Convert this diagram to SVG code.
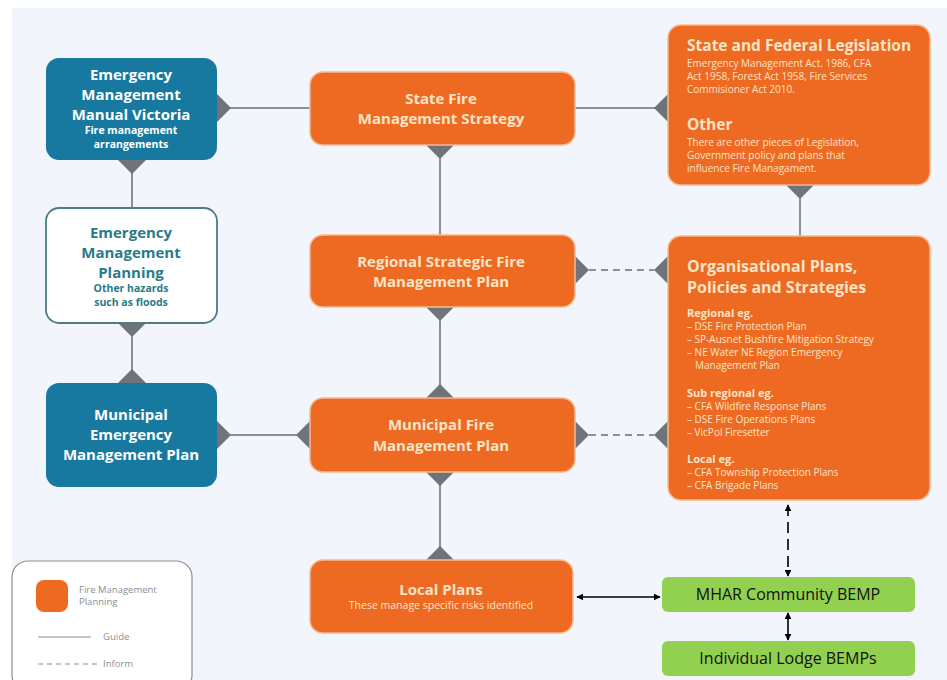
<svg xmlns="http://www.w3.org/2000/svg" width="947" height="680" viewBox="0 0 947 680">
<defs>
<style>
.bg{fill:#f2f5fb}
.org{fill:#ee6a23;stroke:#f7b98e;stroke-width:1.5}
.blue{fill:#17799f}
.wbox{fill:#ffffff;stroke:#4a7d86;stroke-width:1.8}
.green{fill:#92d050}
.dia{fill:#6e7479}
.ln{stroke:#8b9095;stroke-width:2;fill:none}
.dash{stroke:#8b9095;stroke-width:2;fill:none;stroke-dasharray:7 5}
.arr{stroke:#000;stroke-width:1.6;fill:none}
.t{font-family:"Open Sans","Noto Sans",sans-serif;font-weight:bold;text-anchor:middle}
.tb{fill:#ffffff}
.to{fill:#fde4c6}
.tt{fill:#2a7a8a}
.h{font-family:"Open Sans","Noto Sans",sans-serif;font-weight:bold;fill:#fde4c6}
.s{font-family:"Open Sans","Noto Sans",sans-serif;fill:#fde4c6;font-size:10px}
.g{font-family:"Open Sans","Noto Sans",sans-serif;font-size:16px;fill:#111;text-anchor:middle}
.lg{font-family:"Open Sans","Noto Sans",sans-serif;font-size:9.5px;fill:#8a8f94}
</style>
<marker id="ah" viewBox="0 0 10 10" refX="9" refY="5" markerWidth="7" markerHeight="7" orient="auto-start-reverse" markerUnits="userSpaceOnUse">
<path d="M0,0 L10,5 L0,10 z" fill="#000"/>
</marker>
</defs>
<rect class="bg" x="12" y="8" width="935" height="672"/>

<g id="connectors">
<line class="ln" x1="217" y1="108" x2="310" y2="108"/>
<line class="ln" x1="575" y1="108" x2="668" y2="108"/>
<line class="ln" x1="440" y1="145" x2="440" y2="235"/>
<line class="ln" x1="440" y1="307" x2="440" y2="398"/>
<line class="ln" x1="440" y1="472" x2="440" y2="560"/>
<line class="ln" x1="800" y1="185" x2="800" y2="236"/>
<line class="ln" x1="132" y1="160" x2="132" y2="208"/>
<line class="ln" x1="132" y1="323" x2="132" y2="383"/>
<line class="ln" x1="217" y1="435" x2="310" y2="435"/>
<line class="dash" x1="589" y1="270" x2="654" y2="270"/>
<line class="dash" x1="589" y1="435" x2="654" y2="435"/>
<path class="dia" d="M217,94 L231,108 L217,122 L203,108z"/>
<path class="dia" d="M132,146 L146,160 L132,174 L118,160z"/>
<path class="dia" d="M132,309 L146,323 L132,337 L118,323z"/>
<path class="dia" d="M132,369 L146,383 L132,397 L118,383z"/>
<path class="dia" d="M217,421 L231,435 L217,449 L203,435z"/>
<path class="dia" d="M440,131 L454,145 L440,159 L426,145z"/>
<path class="dia" d="M668,94 L682,108 L668,122 L654,108z"/>
<path class="dia" d="M800,171 L814,185 L800,199 L786,185z"/>
<path class="dia" d="M575,256 L589,270 L575,284 L561,270z"/>
<path class="dia" d="M668,256 L682,270 L668,284 L654,270z"/>
<path class="dia" d="M440,293 L454,307 L440,321 L426,307z"/>
<path class="dia" d="M440,384 L454,398 L440,412 L426,398z"/>
<path class="dia" d="M310,421 L324,435 L310,449 L296,435z"/>
<path class="dia" d="M575,421 L589,435 L575,449 L561,435z"/>
<path class="dia" d="M668,421 L682,435 L668,449 L654,435z"/>
<path class="dia" d="M440,458 L454,472 L440,486 L426,472z"/>
<path class="dia" d="M440,546 L454,560 L440,574 L426,560z"/>
<line class="arr" x1="577" y1="597" x2="660" y2="597" marker-start="url(#ah)" marker-end="url(#ah)"/>
<line class="arr" x1="788" y1="505" x2="788" y2="576" stroke-dasharray="11 6" marker-start="url(#ah)" marker-end="url(#ah)"/>
<line class="arr" x1="788" y1="613" x2="788" y2="640" marker-start="url(#ah)" marker-end="url(#ah)"/>
</g>

<g id="emmv">
<rect class="blue" x="46" y="58" width="171" height="102" rx="13"/>
<text class="t tb" x="131" y="80" font-size="15">Emergency</text>
<text class="t tb" x="131" y="100" font-size="15">Management</text>
<text class="t tb" x="131" y="120" font-size="15">Manual Victoria</text>
<text class="t tb" x="131" y="134" font-size="10.5">Fire management</text>
<text class="t tb" x="131" y="148" font-size="10.5">arrangements</text>
</g>

<g id="emp">
<rect class="wbox" x="46" y="208" width="171" height="115" rx="13"/>
<text class="t tt" x="131" y="238" font-size="15">Emergency</text>
<text class="t tt" x="131" y="258" font-size="15">Management</text>
<text class="t tt" x="131" y="278" font-size="15">Planning</text>
<text class="t tt" x="131" y="292" font-size="10.5">Other hazards</text>
<text class="t tt" x="131" y="306" font-size="10.5">such as floods</text>
</g>

<g id="memp">
<rect class="blue" x="46" y="383" width="171" height="104" rx="13"/>
<text class="t tb" x="131" y="420" font-size="15">Municipal</text>
<text class="t tb" x="131" y="440" font-size="15">Emergency</text>
<text class="t tb" x="131" y="460" font-size="15">Management Plan</text>
</g>

<g id="sfms">
<rect class="org" x="310" y="72" width="265" height="73" rx="13"/>
<text class="t to" x="441" y="104" font-size="15">State Fire</text>
<text class="t to" x="441" y="124" font-size="15">Management Strategy</text>
</g>

<g id="rsfmp">
<rect class="org" x="310" y="235" width="265" height="72" rx="13"/>
<text class="t to" x="441" y="267" font-size="15">Regional Strategic Fire</text>
<text class="t to" x="441" y="287" font-size="15">Management Plan</text>
</g>

<g id="mfmp">
<rect class="org" x="310" y="398" width="265" height="74" rx="13"/>
<text class="t to" x="441" y="430" font-size="15">Municipal Fire</text>
<text class="t to" x="441" y="451" font-size="15">Management Plan</text>
</g>

<g id="local">
<rect class="org" x="310" y="560" width="263" height="73" rx="13"/>
<text class="t to" x="441" y="595" font-size="15">Local Plans</text>
<text x="441" y="609" font-size="10.5" style="font-family:'Open Sans','Noto Sans',sans-serif;fill:#fde4c6;text-anchor:middle">These manage specific risks identified</text>
</g>

<g id="legislation">
<rect class="org" x="668" y="25" width="262" height="160" rx="13"/>
<text class="h" x="687" y="51" font-size="15.5">State and Federal Legislation</text>
<text class="s" x="687" y="67">Emergency Management Act. 1986, CFA</text>
<text class="s" x="687" y="80">Act 1958, Forest Act 1958, Fire Services</text>
<text class="s" x="687" y="93">Commisioner Act 2010.</text>
<text class="h" x="687" y="130" font-size="15.5">Other</text>
<text class="s" x="687" y="146">There are other pieces of Legislation,</text>
<text class="s" x="687" y="159">Government policy and plans that</text>
<text class="s" x="687" y="172">influence Fire Managament.</text>
</g>

<g id="organisational">
<rect class="org" x="668" y="236" width="262" height="264" rx="13"/>
<text class="h" x="687" y="272" font-size="16">Organisational Plans,</text>
<text class="h" x="687" y="293" font-size="16">Policies and Strategies</text>
<text class="h" x="687" y="317" font-size="11">Regional eg.</text>
<text class="s" x="687" y="330">– DSE Fire Protection Plan</text>
<text class="s" x="687" y="343">– SP-Ausnet Bushfire Mitigation Strategy</text>
<text class="s" x="687" y="356">– NE Water NE Region Emergency</text>
<text class="s" x="695" y="369">Management Plan</text>
<text class="h" x="687" y="397" font-size="11">Sub regional eg.</text>
<text class="s" x="687" y="410">– CFA Wildfire Response Plans</text>
<text class="s" x="687" y="423">– DSE Fire Operations Plans</text>
<text class="s" x="687" y="436">– VicPol Firesetter</text>
<text class="h" x="687" y="463" font-size="11">Local eg.</text>
<text class="s" x="687" y="476">– CFA Township Protection Plans</text>
<text class="s" x="687" y="489">– CFA Brigade Plans</text>
</g>

<g id="mhar">
<rect class="green" x="662" y="577" width="253" height="35" rx="6"/>
<text class="g" x="788" y="600">MHAR Community BEMP</text>
</g>

<g id="lodge">
<rect class="green" x="662" y="641" width="253" height="35" rx="6"/>
<text class="g" x="788" y="664">Individual Lodge BEMPs</text>
</g>

<g id="legend">
<rect x="12" y="561" width="180" height="130" rx="16" fill="#ffffff" stroke="#8a8f94" stroke-width="1.2"/>
<rect x="36" y="580" width="32" height="32" rx="8" fill="#ee6a23"/>
<text class="lg" x="79" y="593">Fire Management</text>
<text class="lg" x="79" y="605">Planning</text>
<line x1="38" y1="637" x2="91" y2="637" stroke="#8a8f94" stroke-width="1.2"/>
<text class="lg" x="103" y="640">Guide</text>
<line x1="38" y1="664" x2="97" y2="664" stroke="#8a8f94" stroke-width="1.2" stroke-dasharray="5 4"/>
<text class="lg" x="103" y="667">Inform</text>
</g>
</svg>
